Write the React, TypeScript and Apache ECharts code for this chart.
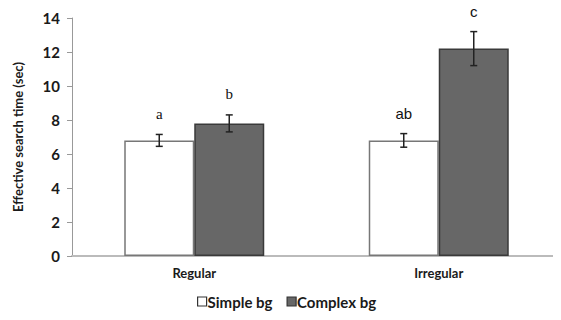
import React, { useEffect, useRef } from "react";
import * as echarts from "echarts";

const categories = ["Regular", "Irregular"];
const seriesNames = ["Simple bg", "Complex bg"];
const simpleValues = [6.8, 6.8];
const complexValues = [7.8, 12.2];
const simpleErrors = [0.35, 0.4];
const complexErrors = [0.5, 1.0];
const simpleLetters = ["a", "ab"];
const complexLetters = ["b", "c"];
const yTicks = [0, 2, 4, 6, 8, 10, 12, 14];

const FONT = "Lato, 'Open Sans', sans-serif";
const BAR_W = 70;

function letterFont(letter: string) {
  return letter === "a" || letter === "b"
    ? "15px 'Liberation Serif', 'DejaVu Serif', serif"
    : "15px 'Liberation Sans', Arial, sans-serif";
}

function errorSeries(values: number[], errors: number[], letters: string[], seriesIndex: number) {
  const data = values.map((v, i) => [i, v, errors[i]]);
  return {
    type: "custom",
    name: seriesNames[seriesIndex] + " err",
    silent: true,
    z: 10,
    renderItem: (params: any, api: any) => {
      const idx = api.value(0);
      const v = api.value(1);
      const e = api.value(2);
      const letter = letters[params.dataIndex];
      const center = api.coord([idx, 0])[0];
      const x = seriesIndex === 0 ? center - BAR_W / 2 : center + BAR_W / 2;
      const top = api.coord([idx, v + e])[1];
      const bot = api.coord([idx, v - e])[1];
      const cap = 3.5;
      const st = { stroke: "#222", lineWidth: 1.5 };
      return {
        type: "group",
        children: [
          { type: "line", shape: { x1: x, y1: top, x2: x, y2: bot }, style: st },
          { type: "line", shape: { x1: x - cap, y1: top, x2: x + cap, y2: top }, style: st },
          { type: "line", shape: { x1: x - cap, y1: bot, x2: x + cap, y2: bot }, style: st },
          {
            type: "text",
            x: x,
            y: top - 13,
            style: {
              text: letter,
              fill: "#111",
              font: letterFont(letter),
              align: "center",
              verticalAlign: "bottom",
            },
          },
        ],
      };
    },
    data,
  };
}

export default function App() {
  const ref = useRef<HTMLDivElement>(null);
  useEffect(() => {
    if (!ref.current) return;
    const chart = echarts.init(ref.current, null, { renderer: "svg" });
    chart.setOption({
      animation: false,
      backgroundColor: "#ffffff",
      textStyle: { fontFamily: FONT },
      grid: { left: 72, right: -8, top: 18, bottom: 64, containLabel: false },
      legend: {
        top: 289,
        left: 192,
        itemWidth: 9,
        itemHeight: 9,
        itemGap: 14,
        icon: "rect",
        data: [
          { name: seriesNames[0], itemStyle: { color: "#ffffff", borderColor: "#333", borderWidth: 1.2 } },
          { name: seriesNames[1], itemStyle: { color: "#676767", borderColor: "#333", borderWidth: 1.2 } },
        ],
        textStyle: { fontFamily: FONT, fontWeight: "bold", fontSize: 15, color: "#1a1a1a", padding: [0, 0, 0, -4] },
      },
      xAxis: {
        type: "category",
        data: categories,
        axisLine: { lineStyle: { color: "#bbb", width: 2 } },
        axisTick: { show: false },
        axisLabel: { fontFamily: FONT, fontWeight: "bold", fontSize: 13, color: "#1a1a1a", margin: 10 },
      },
      yAxis: {
        type: "value",
        min: 0,
        max: 14,
        interval: 2,
        name: "Effective search time (sec)",
        nameLocation: "middle",
        nameGap: 48,
        nameTextStyle: { fontFamily: FONT, fontWeight: "bold", fontSize: 13, color: "#1a1a1a" },
        axisLine: { show: true, lineStyle: { color: "#999", width: 1 } },
        axisTick: { show: true, length: 5, inside: false, lineStyle: { color: "#999" } },
        splitLine: { show: false },
        axisLabel: {
          fontFamily: FONT,
          fontWeight: "bold",
          fontSize: 15,
          color: "#1a1a1a",
          margin: 12,
          formatter: (v: number) => (yTicks.includes(v) ? String(v) : ""),
        },
      },
      series: [
        {
          name: seriesNames[0],
          type: "bar",
          data: simpleValues,
          barWidth: BAR_W,
          barGap: "0%",
          itemStyle: { color: "#ffffff", borderColor: "#777", borderWidth: 1.5 },
        },
        {
          name: seriesNames[1],
          type: "bar",
          data: complexValues,
          barWidth: BAR_W,
          barGap: "0%",
          itemStyle: { color: "#676767", borderColor: "#3a3a3a", borderWidth: 1.5 },
        },
        errorSeries(simpleValues, simpleErrors, simpleLetters, 0),
        errorSeries(complexValues, complexErrors, complexLetters, 1),
      ],
    });
    return () => chart.dispose();
  }, []);
  return <div ref={ref} style={{ width: 561, height: 320, marginLeft: -8, marginTop: -8 }} />;
}
